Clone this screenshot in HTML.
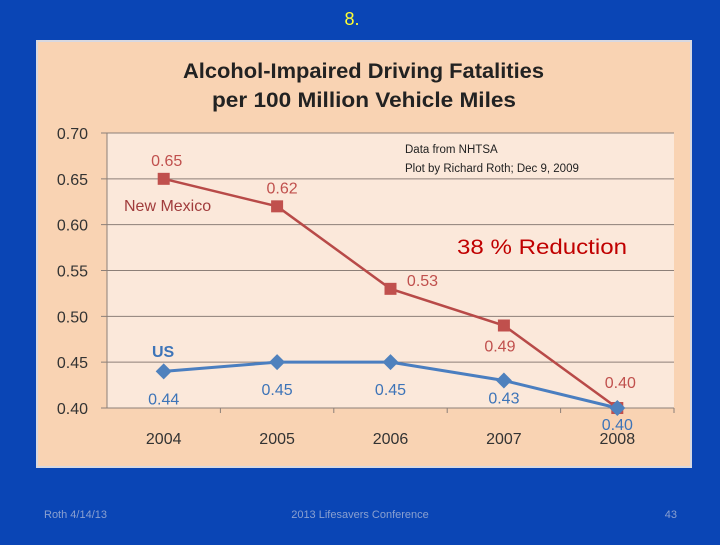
<!DOCTYPE html>
<html><head><meta charset="utf-8"><style>
body{margin:0;width:720px;height:540px;background:#0a45b5;overflow:hidden;font-family:"Liberation Sans",sans-serif}
</style></head><body>
<svg width="720" height="540" xmlns="http://www.w3.org/2000/svg">
<rect x="0" y="0" width="720" height="540" fill="#0a45b5"/>
<text x="352" y="25" fill="#ffff33" font-size="18" text-anchor="middle">8.</text>
<rect x="37" y="41" width="654" height="426" fill="#f9d3b3" stroke="#d8d8e0" stroke-width="2"/>
<rect x="107" y="133" width="567" height="275" fill="#fbe8da"/>
<text x="183" y="78" font-size="21" font-weight="bold" fill="#222" textLength="361" lengthAdjust="spacingAndGlyphs">Alcohol-Impaired Driving Fatalities</text>
<text x="212" y="107" font-size="21" font-weight="bold" fill="#222" textLength="304" lengthAdjust="spacingAndGlyphs">per 100 Million Vehicle Miles</text>
<g id="grid"></g><g id="marks"></g>
<text x="405" y="153" font-size="11.5" fill="#222">Data from NHTSA</text>
<text x="405" y="172" font-size="11.5" fill="#222">Plot by Richard Roth;  Dec 9, 2009</text>
<text x="457" y="254" font-size="21" fill="#c00000" textLength="170" lengthAdjust="spacingAndGlyphs">38 % Reduction</text>
<text x="124" y="211" font-size="16" fill="#a03c3c">New Mexico</text>
<text x="152" y="357" font-size="16" font-weight="bold" fill="#3d74b8">US</text>
<text x="44" y="518" font-size="11" fill="#8aa0d0">Roth 4/14/13</text>
<text x="360" y="518" font-size="11" fill="#8aa0d0" text-anchor="middle">2013 Lifesavers Conference</text>
<text x="677" y="518" font-size="11" fill="#8aa0d0" text-anchor="end">43</text>
</svg>
<script>
const years=["2004","2005","2006","2007","2008"];
const nm=[0.65,0.62,0.53,0.49,0.40];
const us=[0.44,0.45,0.45,0.43,0.40];
const yTicks=[0.40,0.45,0.50,0.55,0.60,0.65,0.70];
const nmLabelDy=[-13,-13,-3,26,-20];
const nmLabelDx=[3,5,32,-4,3];
const usLabelDy=[33,33,33,23,22];
const usLabelDx=[0,0,0,0,0];
const NS="http://www.w3.org/2000/svg";
const x0=107,x1=674,y0=408,y1=133;
const xs=i=>x0+(x1-x0)/years.length*(i+0.5);
const ys=v=>y0-(v-0.40)/(0.70-0.40)*(y0-y1);
function mk(t,a,p){const e=document.createElementNS(NS,t);for(const k in a)e.setAttribute(k,a[k]);p.appendChild(e);return e;}
const g=document.getElementById('grid'),m=document.getElementById('marks');
yTicks.forEach(v=>{
 const l=mk('line',{x1:x0-6,x2:x1,y1:ys(v),y2:ys(v),stroke:'#8c7f78','stroke-width':1},g);
 
 
 const t=mk('text',{x:88,y:ys(v)+6,'font-size':16,fill:'#333','text-anchor':'end'},g);t.textContent=v.toFixed(2);
 
 
});
const ax=mk('line',{x1:x0,x2:x0,y1:y1,y2:y0,stroke:'#8c7f78'},g);


years.forEach((y,i)=>{
 const tk=mk('line',{x1:x0+(x1-x0)/years.length*(i+1),x2:x0+(x1-x0)/years.length*(i+1),y1:y0,y2:y0+5,stroke:'#8c7f78'},g);
 
 
 const t=mk('text',{x:xs(i),y:444,'font-size':16,fill:'#333','text-anchor':'middle'},g);t.textContent=y;
 
 
});
const pnm=mk('polyline',{points:nm.map((v,i)=>xs(i)+','+ys(v)).join(' '),fill:'none',stroke:'#b84a48','stroke-width':2.5},m);


const pus=mk('polyline',{points:us.map((v,i)=>xs(i)+','+ys(v)).join(' '),fill:'none',stroke:'#4a7ec0','stroke-width':3},m);


nm.forEach((v,i)=>{
 const r=mk('rect',{x:xs(i)-6,y:ys(v)-6,width:12,height:12,fill:'#c0504d'},m);
 
 
 const t=mk('text',{x:xs(i)+nmLabelDx[i],y:ys(v)+nmLabelDy[i],'font-size':16,fill:'#c0504d','text-anchor':'middle'},m);t.textContent=v.toFixed(2);
 
 
});
us.forEach((v,i)=>{
 const c=xs(i),cy=ys(v);
 const p=mk('polygon',{points:`${c},${cy-8} ${c+8},${cy} ${c},${cy+8} ${c-8},${cy}`,fill:'#4f81bd'},m);
 
 
 const t=mk('text',{x:c+usLabelDx[i],y:cy+usLabelDy[i],'font-size':16,fill:'#3d74b8','text-anchor':'middle'},m);t.textContent=v.toFixed(2);
 
 
});
</script>
</body></html>
